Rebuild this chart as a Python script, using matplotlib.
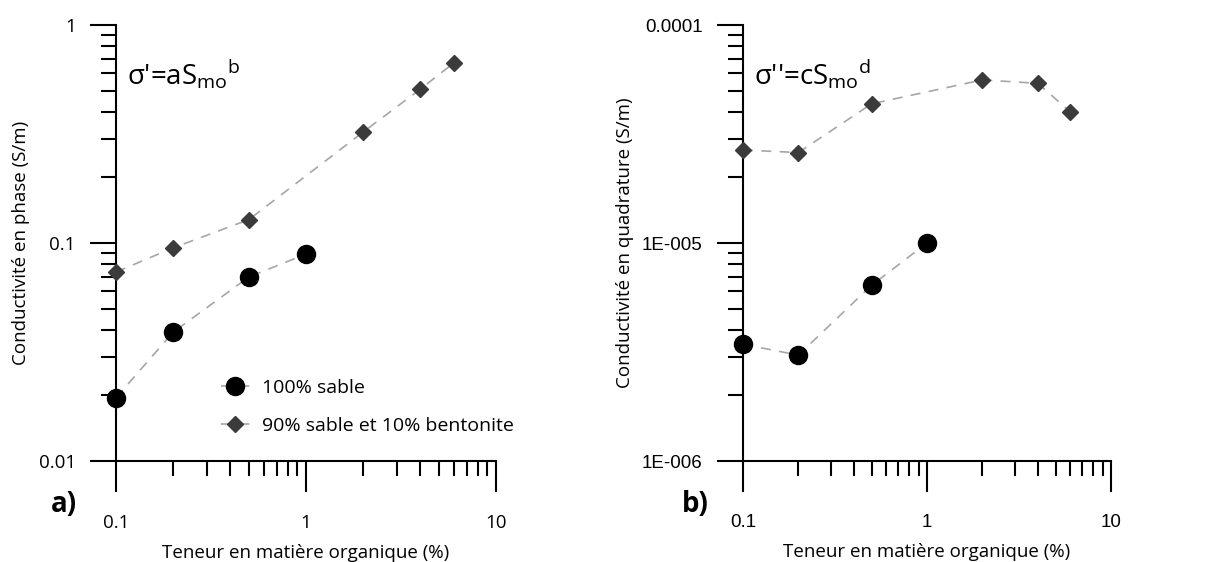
import numpy as np
import matplotlib
matplotlib.use("Agg")
import matplotlib.pyplot as plt
from matplotlib.ticker import LogLocator, NullFormatter

plt.rcParams['font.family'] = ['Open Sans', 'DejaVu Sans']
plt.rcParams['mathtext.fontset'] = 'custom'
plt.rcParams['mathtext.rm'] = 'Open Sans'
plt.rcParams['mathtext.it'] = 'Open Sans'

# donnees
mo_sable = [0.1, 0.2, 0.5, 1]
mo_bento = [0.1, 0.2, 0.5, 2, 4, 6]

sig1_sable = [0.0195, 0.039, 0.0698, 0.089]
sig1_bento = [0.0736, 0.095, 0.128, 0.323, 0.508, 0.67]

sig2_sable = [3.43e-6, 3.06e-6, 6.4e-6, 1.0e-5]
sig2_bento = [2.67e-5, 2.6e-5, 4.35e-5, 5.6e-5, 5.4e-5, 4.0e-5]

xticks = [0.1, 1, 10]
xticklabels = ['0.1', '1', '10']
yticks_a = [0.01, 0.1, 1]
yticklabels_a = ['0.01', '0.1', '1']
yticks_b = [1e-6, 1e-5, 1e-4]
yticklabels_b = ['1E-006', '1E-005', '0.0001']

lab_sable = '100% sable'
lab_bento = '90% sable et 10% bentonite'

fig = plt.figure(figsize=(12.17, 5.62), dpi=100)
axa = fig.add_axes([116/1217, 101/562, 380/1217, 436/562])
axb = fig.add_axes([743/1217, 101/562, 368/1217, 436/562])

line_col = '#a6a6a6'
dia_col = '#3b3b3b'


def style(ax, yt, ytl, ylim, tickfont):
    ax.set_xscale('log')
    ax.set_yscale('log')
    ax.set_xlim(0.1, 10)
    ax.set_ylim(*ylim)
    for s in ['top', 'right']:
        ax.spines[s].set_visible(False)
    for s in ['left', 'bottom']:
        ax.spines[s].set_linewidth(1.5)
    ax.set_xticks(xticks)
    ax.set_xticklabels(xticklabels, fontsize=13.5, family=tickfont)
    ax.set_yticks(yt)
    ax.set_yticklabels(ytl, fontsize=13.5, family=tickfont)
    ax.xaxis.set_minor_locator(LogLocator(base=10, subs=np.arange(2, 10)))
    ax.yaxis.set_minor_locator(LogLocator(base=10, subs=np.arange(2, 10)))
    ax.xaxis.set_minor_formatter(NullFormatter())
    ax.yaxis.set_minor_formatter(NullFormatter())
    ax.tick_params(axis='x', which='major', direction='out', length=22, width=1.5, pad=16)
    ax.tick_params(axis='x', which='minor', direction='out', length=11, width=1.5)
    ax.tick_params(axis='y', which='major', direction='out', length=19, width=1.5, pad=10)
    ax.tick_params(axis='y', which='minor', direction='out', length=11, width=1.5)
    ax.set_xlabel('Teneur en matière organique (%)', fontsize=13.5, labelpad=9)


def draw(ax, ys, yb):
    ax.plot(mo_sable, ys, linestyle=(0, (6, 5)), color=line_col, lw=1.2,
            marker='o', ms=13, mfc='black', mec='black', label=lab_sable,
            clip_on=False, zorder=3)
    ax.plot(mo_bento, yb, linestyle=(0, (6, 5)), color=line_col, lw=1.2,
            marker='D', ms=8.5, mfc=dia_col, mec=dia_col, label=lab_bento,
            clip_on=False, zorder=3)


# a)
draw(axa, sig1_sable, sig1_bento)
style(axa, yticks_a, yticklabels_a, (0.01, 1), 'Open Sans')
axa.set_ylabel('Conductivité en phase (S/m)', fontsize=13.5, labelpad=6)
axa.text(0.028, 0.885, r"σ'=aS$_{\rm mo}$$^{\rm b}$", transform=axa.transAxes,
         fontsize=20, va='center')
axa.legend(loc='center left', bbox_to_anchor=(0.23, 0.124), frameon=False,
           fontsize=14, handlelength=1.5, handletextpad=0.6, labelspacing=1.05)
fig.text(64/1217, 1 - 505/562, 'a)', fontsize=20, fontweight='bold',
         ha='center', va='center')

# b)
draw(axb, sig2_sable, sig2_bento)
style(axb, yticks_b, yticklabels_b, (1e-6, 1e-4), 'Liberation Sans')
axb.set_ylabel('Conductivité en quadrature (S/m)', fontsize=13.5, labelpad=6)
axb.text(0.03, 0.885, r"σ''=cS$_{\rm mo}$$^{\rm d}$", transform=axb.transAxes,
         fontsize=20, va='center')
fig.text(695/1217, 1 - 505/562, 'b)', fontsize=20, fontweight='bold',
         ha='center', va='center')

fig.savefig('out.png', dpi=100)
